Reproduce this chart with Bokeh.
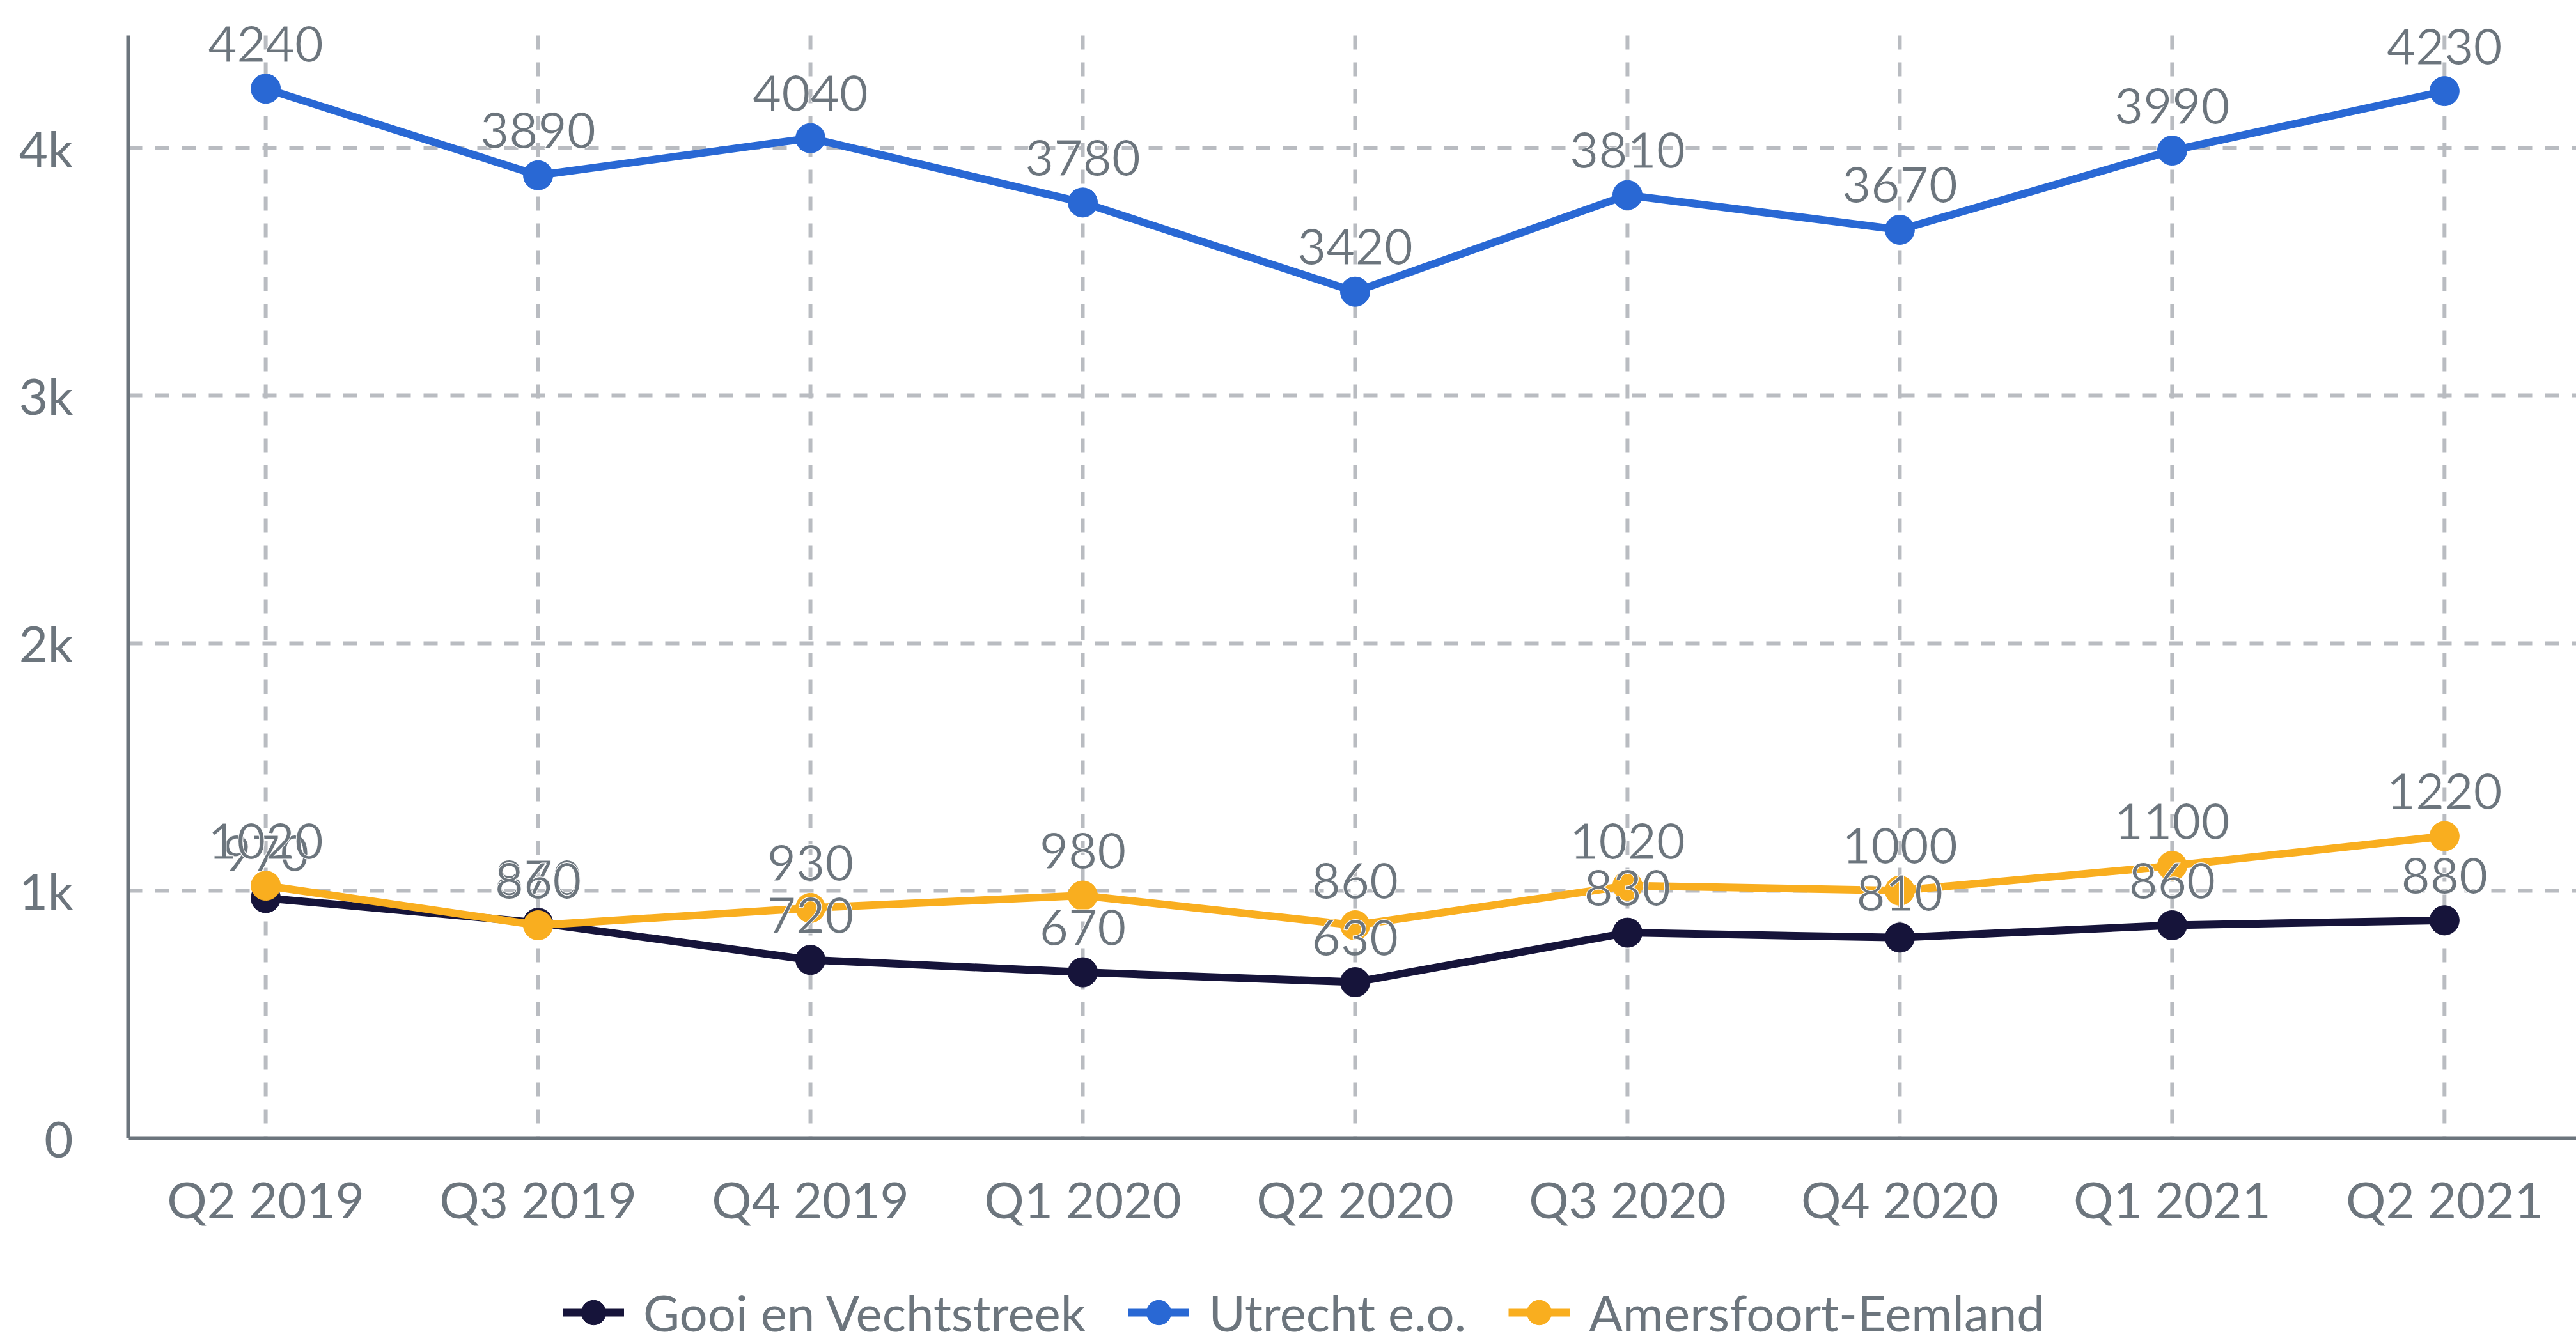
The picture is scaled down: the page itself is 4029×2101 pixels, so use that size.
from bokeh.plotting import figure
from bokeh.models import Range1d, FixedTicker, Legend, LegendItem, ColumnDataSource
from bokeh.core.properties import value
from bokeh.embed import file_html
from bokeh.resources import INLINE

quarters = ["Q2 2019", "Q3 2019", "Q4 2019", "Q1 2020", "Q2 2020",
            "Q3 2020", "Q4 2020", "Q1 2021", "Q2 2021"]
gooi = [970, 870, 720, 670, 630, 830, 810, 860, 880]
utrecht = [4240, 3890, 4040, 3780, 3420, 3810, 3670, 3990, 4230]
amersfoort = [1020, 860, 930, 980, 860, 1020, 1000, 1100, 1220]
series_names = ["Gooi en Vechtstreek", "Utrecht e.o.", "Amersfoort-Eemland"]
series_colors = ["#16143a", "#2968d4", "#f9ae1f"]
y_ticks = [0, 1000, 2000, 3000, 4000]
y_tick_labels = ["0", "1k", "2k", "3k", "4k"]

FONT = "Lato"
GRAY = "#6c757d"
GRID = "#b9bcc1"
FS = "78px"
W = 4029
H_MAIN = 1990
H_LEG = 111
Y_AXIS_TOP = 4455      # top end of the drawn y axis
Y_VIEW_TOP = 4597      # extra head-room so labels above the top points are not clipped

xs = list(range(len(quarters)))

p = figure(width=W, height=H_MAIN, output_backend="svg", toolbar_location=None,
           x_range=Range1d(-0.505, 8.484), y_range=Range1d(0, Y_VIEW_TOP),
           min_border_left=200, min_border_right=0, min_border_top=0,
           min_border_bottom=H_MAIN - 1780)
p.outline_line_color = None

# axes
p.xaxis.ticker = FixedTicker(ticks=xs)
p.xaxis.major_label_overrides = {i: q for i, q in enumerate(quarters)}
p.yaxis.ticker = FixedTicker(ticks=y_ticks)
p.yaxis.major_label_overrides = {t: l for t, l in zip(y_ticks, y_tick_labels)}
p.yaxis.bounds = (0, Y_AXIS_TOP)
for ax in (p.xaxis[0], p.yaxis[0]):
    ax.axis_line_color = GRAY
    ax.axis_line_width = 6
    ax.major_tick_line_color = None
    ax.minor_tick_line_color = None
    ax.major_label_text_font = FONT
    ax.major_label_text_font_size = FS
    ax.major_label_text_color = GRAY
p.xaxis.major_label_standoff = 42
p.yaxis.major_label_standoff = 80

# grids: horizontal via the grid, vertical as dashed segments ending at the axis top
p.xgrid.visible = False
p.ygrid.ticker = FixedTicker(ticks=y_ticks[1:])
p.ygrid.grid_line_color = GRID
p.ygrid.grid_line_width = 6
p.ygrid.grid_line_dash = "22 20"
vgrid = ColumnDataSource(dict(x=xs, top=[Y_AXIS_TOP] * len(xs), bottom=[y_ticks[0]] * len(xs)))
p.segment(x0="x", y0="top", x1="x", y1="bottom", source=vgrid,
          line_color=GRID, line_width=6, line_dash="22 20")

series = [gooi, utrecht, amersfoort]
sources = []
for name, vals, col in zip(series_names, series, series_colors):
    src = ColumnDataSource(dict(x=xs, y=vals, lbl=[str(v) for v in vals]))
    sources.append(src)
    p.line("x", "y", source=src, line_color=col, line_width=12)
    p.scatter("x", "y", source=src, size=46, fill_color=col, line_color=col)

for src in sources:
    p.text("x", "y", text="lbl", source=src, text_font=value(FONT),
           text_font_size=FS, text_color=GRAY, text_align="center",
           text_baseline="alphabetic", y_offset=-70,
           text_outline_color="white")

# legend strip below the chart (series drawn off-view, only their legend glyphs show)
p2 = figure(width=W, height=H_LEG, output_backend="svg", toolbar_location=None,
            x_range=Range1d(-0.505, 8.484), y_range=Range1d(-1, 0),
            x_axis_location=None, y_axis_location=None, min_border=0,
            min_border_left=0, min_border_right=0, min_border_top=0,
            min_border_bottom=0)
p2.outline_line_color = None
p2.grid.visible = False
items = []
for name, src, col in zip(series_names, sources, series_colors):
    lr = p2.line("x", "y", source=src, line_color=col, line_width=12)
    sr = p2.scatter("x", "y", source=src, fill_color=col, line_color=col)
    items.append(LegendItem(label=name, renderers=[lr, sr]))

legend = Legend(items=items, orientation="horizontal", location=(880, 0),
                glyph_width=96, glyph_height=96, label_standoff=30, spacing=66,
                padding=0, margin=0, border_line_color=None,
                background_fill_alpha=0, label_text_font=FONT,
                label_text_font_size=FS, label_text_color=GRAY)
p2.add_layout(legend, "center")

open("out.html", "w").write(file_html([p, p2], INLINE))
